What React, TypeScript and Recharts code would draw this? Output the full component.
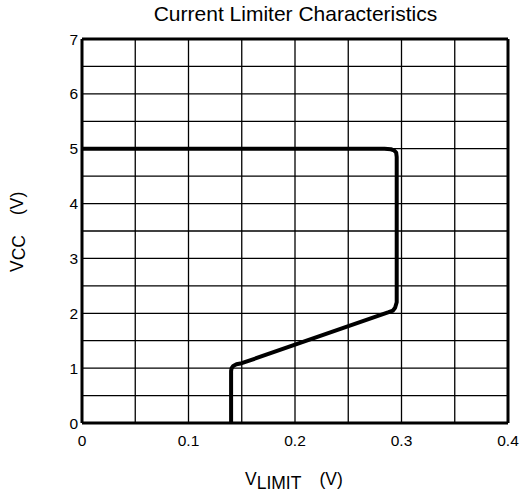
import * as React from 'react';
import { LineChart, Line, CartesianGrid, XAxis, YAxis, ReferenceLine, Label } from 'recharts';

// curve: V_LIMIT (V) vs V_CC (V)
const vLimit = [0.14, 0.14, 0.1405, 0.142, 0.145, 0.15, 0.288, 0.292, 0.294, 0.2955, 0.2955, 0.295, 0.293, 0.29, 0.284, 0];
const vcc = [0, 0.95, 1.0, 1.04, 1.07, 1.09, 2.02, 2.05, 2.1, 2.2, 4.85, 4.93, 4.97, 4.99, 5.0, 5.0];

const xTicks = [0, 0.05, 0.1, 0.15, 0.2, 0.25, 0.3, 0.35, 0.4];
const yTicks = [0, 0.5, 1, 1.5, 2, 2.5, 3, 3.5, 4, 4.5, 5, 5.5, 6, 6.5, 7];

const data = vLimit.map((x, i) => ({ x, y: vcc[i] }));

const font = 'Arial, "Liberation Sans", sans-serif';

const App = () => {
  return (
    <div style={{ position: 'absolute', left: 0, top: 0, width: 520, height: 494, background: '#fff' }}>
      <LineChart width={520} height={494} data={data}
        margin={{ top: 39, right: 12, left: 42, bottom: 0 }}>
        <text x={295.5} y={21} textAnchor="middle" fontSize={21} fontFamily={font} fill="#000">
          Current Limiter Characteristics
        </text>
        <CartesianGrid stroke="#000" strokeWidth={1.3} horizontalValues={yTicks} verticalValues={xTicks} />
        <XAxis dataKey="x" type="number" domain={[0, 0.4]} ticks={xTicks} interval={0}
          tickFormatter={(v) => (Math.round(v * 100) % 10 === 0 ? String(Math.round(v * 10) / 10) : '')}
          tickLine={false} tickSize={0} tickMargin={12} height={71}
          axisLine={{ stroke: '#000', strokeWidth: 3 }}
          tick={{ fill: '#000', fontSize: 15.5, fontFamily: font }}>
          <Label content={() => (
            <text x={245} y={485} fontSize={17.5} fontFamily={font} fill="#000">
              V<tspan dy={4}>LIMIT</tspan><tspan dy={-4} dx={18}>(V)</tspan>
            </text>
          )} />
        </XAxis>
        <YAxis dataKey="y" type="number" domain={[0, 7]} ticks={yTicks} interval={0}
          tickFormatter={(v) => (Number.isInteger(v) ? String(v) : '')}
          tickLine={false} tickSize={0} tickMargin={4} width={40}
          axisLine={{ stroke: '#000', strokeWidth: 3 }}
          tick={{ fill: '#000', fontSize: 15.5, fontFamily: font }}>
          <Label content={() => (
            <text transform="translate(23,272) rotate(-90)" fontSize={17.5} fontFamily={font} fill="#000">
              V<tspan dy={2}>CC</tspan><tspan dy={-2} dx={20}>(V)</tspan>
            </text>
          )} />
        </YAxis>
        <ReferenceLine y={7} stroke="#000" strokeWidth={3} />
        <ReferenceLine x={0.4} stroke="#000" strokeWidth={3} />
        <Line dataKey="y" type="linear" stroke="#000" strokeWidth={4} dot={false}
          strokeLinejoin="round" isAnimationActive={false} />
      </LineChart>
    </div>
  );
};

export default App;
